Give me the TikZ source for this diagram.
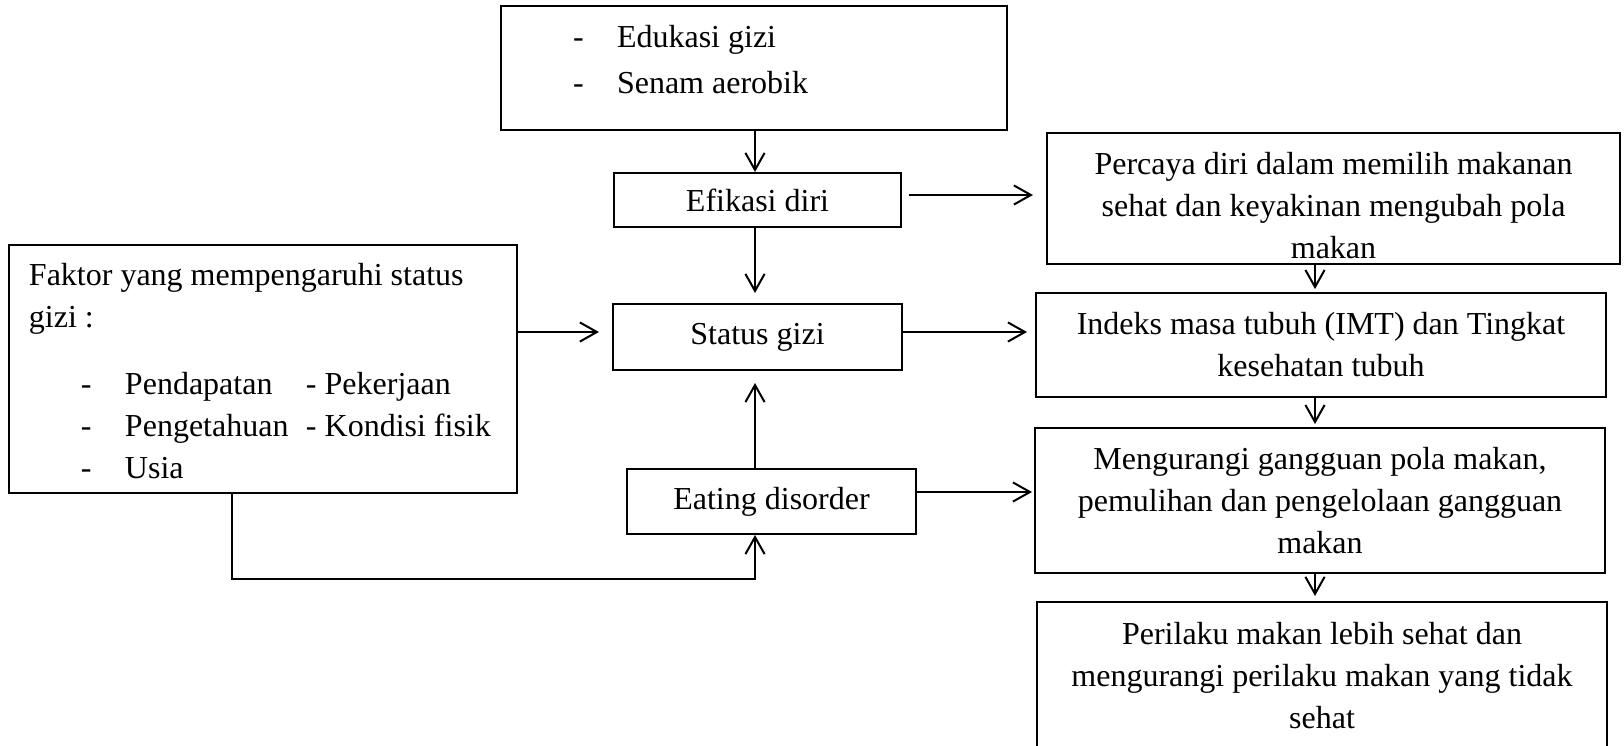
\documentclass[tikz,border=0pt]{standalone}
\usepackage{fontspec}
\setmainfont{Liberation Serif}
\usepackage{tikz}
\usetikzlibrary{positioning,arrows.meta}
\newlength{\pix}\setlength{\pix}{0.375pt}
\newcommand{\dashitem}{\hspace*{72\pix}\makebox[44\pix][l]{-}}

\begin{document}
\begin{tikzpicture}[x=0.375pt,y=-0.375pt,
  box/.style={draw, line width=0.75pt, inner sep=0pt, align=center,
    font=\fontsize{12pt}{15.75pt}\selectfont},
  flow/.style={line width=0.75pt, -{Straight Barb[length=6.4pt,width=7.2pt]}}]
  \useasboundingbox (0,0) rectangle (1624,745);
  % middle column
  \node[box] (intv) at (754,68)
    {\parbox[c][124\pix][t]{506\pix}{\vspace*{19\pix}\dashitem Edukasi gizi\\[4\pix]
      \dashitem Senam aerobik}};
  \node[box, minimum width=287\pix, minimum height=54\pix] (efikasi) at (757.5,200) {Efikasi diri};
  \node[box, minimum width=289\pix, minimum height=66\pix] (status) at (757.5,337) {Status gizi};
  \node[box, minimum width=289\pix, minimum height=65\pix] (eating) at (771.5,501.5) {Eating disorder};
  % left box
  \node[box] (faktor) at (263,369)
    {\parbox[c][248\pix][t]{508\pix}{\vspace*{18\pix}\hspace*{20\pix}Faktor yang mempengaruhi status\\
      \hspace*{20\pix}gizi :\\[25\pix]
      \dashitem\makebox[181\pix][l]{Pendapatan}- Pekerjaan\\
      \dashitem\makebox[181\pix][l]{Pengetahuan}- Kondisi fisik\\
      \dashitem Usia}};
  % right column
  \node[box, minimum width=573\pix, minimum height=131\pix] (percaya) at (1333.5,198.5)
    {\rule{0pt}{36\pix}Percaya diri dalam memilih makanan\\sehat dan keyakinan mengubah pola\\makan};
  \node[box, minimum width=570\pix, minimum height=104\pix] (imt) at (1321,345)
    {Indeks masa tubuh (IMT) dan Tingkat\\kesehatan tubuh};
  \node[box, minimum width=570\pix, minimum height=145\pix] (mengurangi) at (1320,500.5)
    {Mengurangi gangguan pola makan,\\pemulihan dan pengelolaan gangguan\\makan};
  \node[box, minimum width=570\pix, minimum height=148\pix] (perilaku) at (1322,676)
    {Perilaku makan lebih sehat dan\\mengurangi perilaku makan yang tidak\\sehat};

  \coordinate (mid) at (755,0);
  \coordinate (rcol) at (1315,0);
  \coordinate (rowA) at (0,195);
  \coordinate (rowB) at (0,332);
  \coordinate (rowC) at (0,492);
  \coordinate (elbow) at (232,579);

  \draw[flow] (intv.south -| mid) -- (efikasi.north -| mid);
  \draw[flow, shorten >=3.75pt] (efikasi.south -| mid) -- (status.north -| mid);
  \draw[flow, shorten >=4.5pt] (eating.north -| mid) -- (status.south -| mid);
  \draw[flow, shorten <=2.6pt, shorten >=4.9pt] (efikasi.east |- rowA) -- (percaya.west |- rowA);
  \draw[flow, shorten >=4.9pt] (faktor.east |- rowB) -- (status.west |- rowB);
  \draw[flow, shorten >=3pt] (status.east |- rowB) -- (imt.west |- rowB);
  \draw[flow, shorten >=0.75pt] (eating.east |- rowC) -- (mengurangi.west |- rowC);
  \draw[flow, shorten >=1.1pt] (percaya.south -| rcol) -- (imt.north -| rcol);
  \draw[flow, shorten >=1.1pt] (imt.south -| rcol) -- (mengurangi.north -| rcol);
  \draw[flow, shorten >=1.9pt] (mengurangi.south -| rcol) -- (perilaku.north -| rcol);
  \draw[flow] (faktor.south -| elbow) -- (elbow) -- (elbow -| mid) -- (eating.south -| mid);
\end{tikzpicture}
\end{document}
